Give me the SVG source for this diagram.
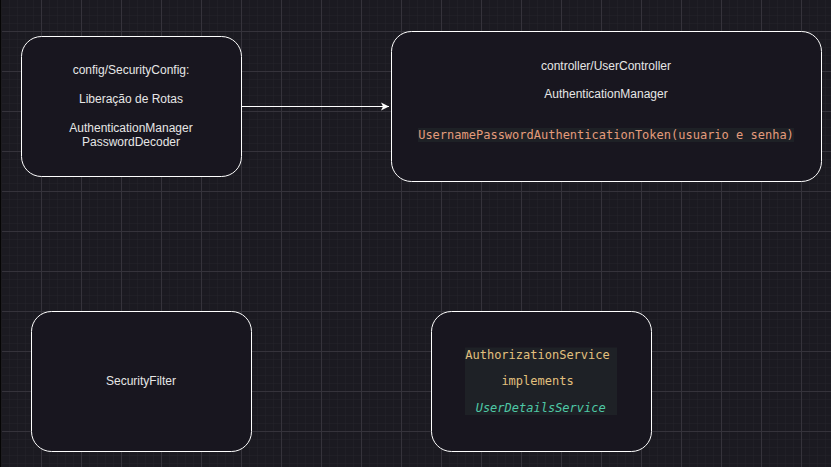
<svg xmlns="http://www.w3.org/2000/svg" width="831" height="467" viewBox="0 0 831 467">
<defs>
<pattern id="minor" x="1" y="7" width="8" height="8" patternUnits="userSpaceOnUse">
<path d="M0 0H8M0 0V8" fill="none" stroke="#25232c" stroke-width="1"/>
</pattern>
<pattern id="major" x="1" y="31" width="40" height="40" patternUnits="userSpaceOnUse">
<path d="M0 0.5H40M0.5 0V40" fill="none" stroke="#35333b" stroke-width="1"/>
</pattern>
<marker id="arrow" markerWidth="10" markerHeight="10" refX="8" refY="5" orient="auto" markerUnits="userSpaceOnUse">
<path d="M0 1 L8 5 L0 9 L2 5 Z" fill="#ffffff"/>
</marker>
</defs>
<style>
.node{fill:#18161f;stroke:#ffffff;stroke-width:1}
.t{font-family:"Liberation Sans",Arial,sans-serif;font-size:12px;fill:#e6e6e6;text-anchor:middle}
.m{font-family:"DejaVu Sans Mono","Liberation Mono",monospace;font-size:12px;text-anchor:middle}
.hl{fill:#1e2126}
</style>
<rect x="0" y="0" width="831" height="467" fill="#1b1a21"/>
<rect x="0" y="0" width="831" height="467" fill="url(#minor)"/>
<rect x="0" y="0" width="831" height="467" fill="url(#major)"/>
<rect x="0" y="0" width="1.5" height="467" fill="#050505"/>
<g id="connectors">
<path d="M241.5 106.5 H389" fill="none" stroke="#ffffff" stroke-width="1" marker-end="url(#arrow)"/>
</g>
<g id="securityconfig">
<rect class="node" x="21.5" y="36.5" width="220" height="140" rx="20"/>
<text class="t" x="131" y="74">config/SecurityConfig:</text>
<text class="t" x="131" y="103">Liberação de Rotas</text>
<text class="t" x="131" y="132">AuthenticationManager</text>
<text class="t" x="131" y="146">PasswordDecoder</text>
</g>
<g id="usercontroller">
<rect class="node" x="391.5" y="31.5" width="430" height="150" rx="20"/>
<text class="t" x="606" y="70">controller/UserController</text>
<text class="t" x="606" y="98">AuthenticationManager</text>
<rect class="hl" x="418" y="128" width="376" height="14"/>
<text class="m" x="606" y="139" fill="#e49c7c">UsernamePasswordAuthenticationToken(usuario e senha)</text>
</g>
<g id="securityfilter">
<rect class="node" x="31.5" y="311.5" width="220" height="140" rx="20"/>
<text class="t" x="141" y="385">SecurityFilter</text>
</g>
<g id="authorizationservice">
<rect class="node" x="431.5" y="311.5" width="220" height="140" rx="20"/>
<rect class="hl" x="465" y="347.5" width="152" height="67.5"/>
<text class="m" x="537.5" y="359" fill="#e2c07e">AuthorizationService</text>
<text class="m" x="537.5" y="385" fill="#e2c07e">implements</text>
<text class="m" x="540.7" y="412" fill="#4ec9a6" font-style="italic">UserDetailsService</text>
</g>
</svg>
